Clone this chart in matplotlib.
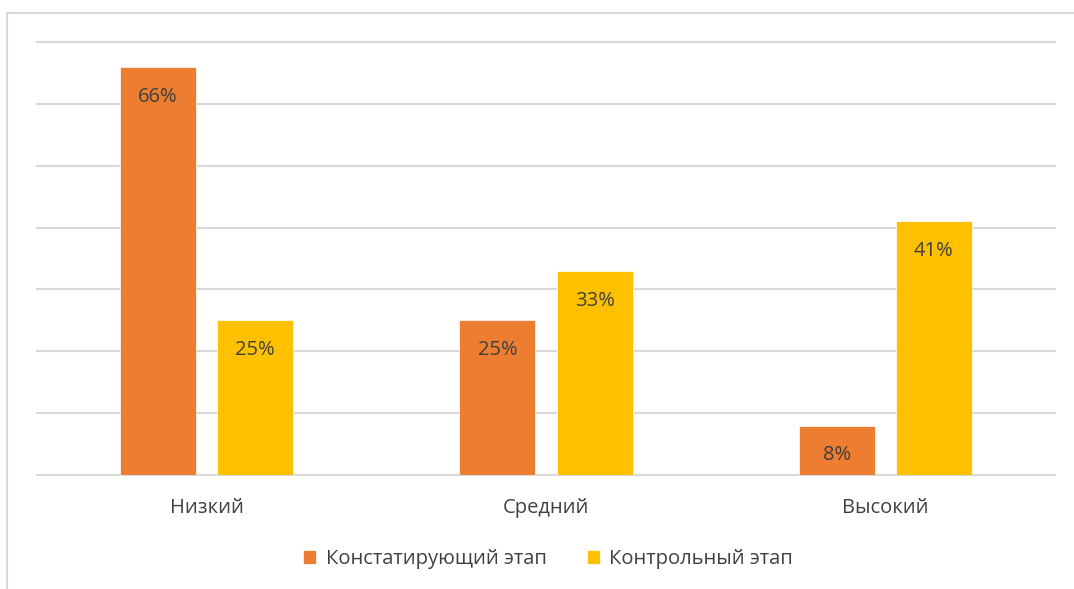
import matplotlib.pyplot as plt
from matplotlib.patches import Rectangle
import numpy as np

# Данные диаграммы
kategorii = ['Низкий', 'Средний', 'Высокий']
konstatir = [66, 25, 8]
kontrol = [25, 33, 41]
serii = ['Констатирующий этап', 'Контрольный этап']

plt.rcParams['font.family'] = ['Open Sans', 'DejaVu Sans']
tekst_cvet = '#404040'
razmer = 14.5

fig = plt.figure(figsize=(10.74, 5.89), dpi=100)
# Рамка области диаграммы
fig.patches.append(Rectangle((7 / 1074, -0.1), 1.2, 1.1 - 13 / 589,
                             transform=fig.transFigure, fill=False,
                             edgecolor='#D9D9D9', linewidth=1.5))

ax = fig.add_axes([37 / 1074, 1 - 475 / 589, 1018 / 1074, 433 / 589])
x = np.arange(len(kategorii))
shirina = 0.224
sdvig = 0.143
b1 = ax.bar(x - sdvig, konstatir, shirina, color='#ED7D31', label=serii[0],
            edgecolor='white', linewidth=0.5, zorder=3)
b2 = ax.bar(x + sdvig, kontrol, shirina, color='#FFC000', label=serii[1],
            edgecolor='white', linewidth=0.5, zorder=3)

# Подписи данных внутри столбцов
for bars, vals in ((b1, konstatir), (b2, kontrol)):
    for b, v in zip(bars, vals):
        ax.annotate(f'{v}%', (b.get_x() + b.get_width() / 2, v),
                    xytext=(0, -21.5), textcoords='offset points',
                    ha='center', va='center', fontsize=razmer,
                    color=tekst_cvet, zorder=4)

ax.set_xlim(-0.5, 2.5)
ax.set_ylim(0, 70)
ax.set_yticks(np.arange(0, 71, 10))
ax.yaxis.grid(True, color='#D9D9D9', linewidth=1.5, zorder=0)
for ln in ax.get_ygridlines():
    ln.set_clip_on(False)
ax.tick_params(axis='y', left=False, labelleft=False)
ax.tick_params(axis='x', bottom=False, pad=13, labelsize=razmer,
               labelcolor=tekst_cvet)
ax.set_xticks(x)
ax.set_xticklabels(kategorii)
for s in ax.spines.values():
    s.set_visible(False)

fig.legend(loc='center', bbox_to_anchor=(548 / 1074, 1 - 559 / 589),
           ncol=2, frameon=False, fontsize=razmer, handlelength=0.65,
           handleheight=0.65, handletextpad=0.45, columnspacing=2.0,
           labelcolor=tekst_cvet)

fig.savefig('out.png', dpi=100)
